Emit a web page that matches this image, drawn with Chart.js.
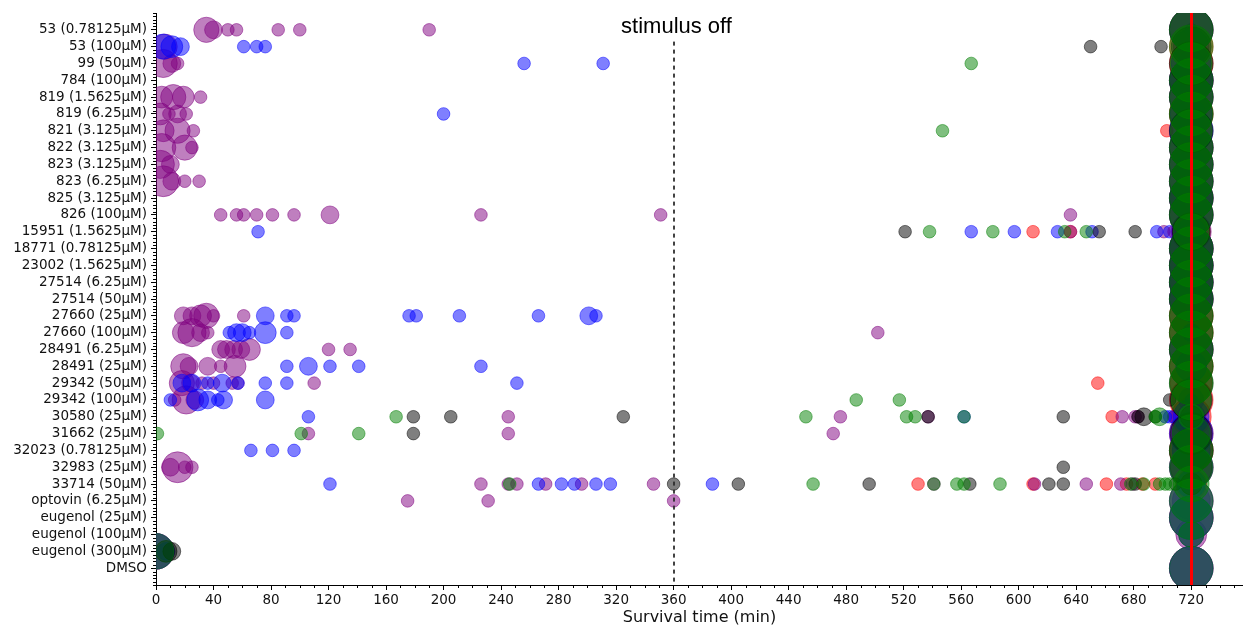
<!DOCTYPE html>
<html>
<head>
<meta charset="utf-8">
<script src="https://cdn.jsdelivr.net/npm/chart.js@4.4.1/dist/chart.umd.min.js"></script>
<style>
  body { margin: 0; background: #fff; }
</style>
</head>
<body>
<canvas id="chart" width="1243" height="626"></canvas>
<script>
// rows, top to bottom
const rowLabels = [
  "53 (0.78125µM)", "53 (100µM)", "99 (50µM)", "784 (100µM)", "819 (1.5625µM)",
  "819 (6.25µM)", "821 (3.125µM)", "822 (3.125µM)", "823 (3.125µM)", "823 (6.25µM)",
  "825 (3.125µM)", "826 (100µM)", "15951 (1.5625µM)", "18771 (0.78125µM)", "23002 (1.5625µM)",
  "27514 (6.25µM)", "27514 (50µM)", "27660 (25µM)", "27660 (100µM)", "28491 (6.25µM)",
  "28491 (25µM)", "29342 (50µM)", "29342 (100µM)", "30580 (25µM)", "31662 (25µM)",
  "32023 (0.78125µM)", "32983 (25µM)", "33714 (50µM)", "optovin (6.25µM)", "eugenol (25µM)",
  "eugenol (100µM)", "eugenol (300µM)", "DMSO"
];

const xMax = 756;
const stimulusOff = 360;
const endTime = 720;

// deaths: [time (min), row, number of fish]
const purplePts = [
  [35, 0, 4], [40, 0, 2], [50, 0, 1], [56, 0, 1], [85, 0, 1], [100, 0, 1], [190, 0, 1],
  [6, 1, 4],
  [5, 2, 5], [11, 2, 2], [15, 2, 1],
  [4, 4, 3], [12, 4, 4], [19, 4, 3], [31, 4, 1],
  [3, 5, 3], [9, 5, 1], [15, 5, 2], [21, 5, 1],
  [5, 6, 3], [15, 6, 4], [26, 6, 1],
  [4, 7, 5], [20, 7, 4], [25, 7, 1],
  [3, 8, 5], [10, 8, 2],
  [5, 9, 6], [11, 9, 2], [20, 9, 1], [30, 9, 1],
  [45, 11, 1], [56, 11, 1], [61, 11, 1], [70, 11, 1], [81, 11, 1], [96, 11, 1], [121, 11, 2],
  [226, 11, 1], [351, 11, 1], [636, 11, 1],
  [636, 12, 1], [701, 12, 1],
  [19, 17, 2], [25, 17, 2], [31, 17, 3], [35, 17, 4], [40, 17, 1], [61, 17, 1],
  [19, 18, 3], [25, 18, 5], [31, 18, 2], [36, 18, 1], [502, 18, 1],
  [45, 19, 2], [49, 19, 2], [54, 19, 2], [59, 19, 2], [65, 19, 3], [120, 19, 1], [135, 19, 1],
  [19, 20, 4], [23, 20, 2], [36, 20, 2], [45, 20, 1], [55, 20, 3],
  [18, 21, 4], [24, 21, 2], [32, 21, 1], [40, 21, 1], [53, 21, 1], [57, 21, 1], [110, 21, 1],
  [13, 22, 1], [21, 22, 5], [27, 22, 2],
  [245, 23, 1], [476, 23, 1], [537, 23, 1], [672, 23, 1], [681, 23, 1], [683, 23, 1], [708, 23, 1],
  [106, 24, 1], [245, 24, 1], [471, 24, 1],
  [15, 26, 6], [10, 26, 2], [20, 26, 1], [25, 26, 1],
  [226, 27, 1], [245, 27, 1], [251, 27, 1], [271, 27, 1], [296, 27, 1], [346, 27, 1],
  [541, 27, 1], [611, 27, 1], [647, 27, 1], [671, 27, 1], [679, 27, 1],
  [175, 28, 1], [231, 28, 1], [360, 28, 1],
  [0, 31, 8]
];

const bluePts = [
  [5, 1, 4], [11, 1, 3], [17, 1, 2], [61, 1, 1], [70, 1, 1], [76, 1, 1],
  [256, 2, 1], [311, 2, 1],
  [200, 5, 1],
  [71, 12, 1], [567, 12, 1], [597, 12, 1], [627, 12, 1], [651, 12, 1], [696, 12, 1], [705, 12, 1],
  [76, 17, 2], [91, 17, 1], [96, 17, 1], [176, 17, 1], [181, 17, 1], [211, 17, 1], [266, 17, 1],
  [301, 17, 2], [306, 17, 1],
  [51, 18, 1], [56, 18, 2], [60, 18, 2], [65, 18, 1], [76, 18, 3], [91, 18, 1],
  [91, 20, 1], [106, 20, 2], [121, 20, 1], [141, 20, 1], [226, 20, 1],
  [18, 21, 2], [25, 21, 2], [36, 21, 1], [46, 21, 2], [57, 21, 1], [76, 21, 1], [91, 21, 1], [251, 21, 1],
  [10, 22, 1], [29, 22, 3], [36, 22, 2], [43, 22, 1], [47, 22, 2], [76, 22, 2],
  [106, 23, 1], [562, 23, 1], [702, 23, 1], [705, 23, 1],
  [66, 25, 1], [81, 25, 1], [96, 25, 1],
  [121, 27, 1], [266, 27, 1], [282, 27, 1], [291, 27, 1], [306, 27, 1], [316, 27, 1], [387, 27, 1],
  [0, 31, 8], [7, 31, 2]
];

const greenPts = [
  [567, 2, 1],
  [547, 6, 1],
  [538, 12, 1], [582, 12, 1], [632, 12, 1], [647, 12, 1],
  [487, 22, 1], [517, 22, 1],
  [167, 23, 1], [452, 23, 1], [522, 23, 1], [528, 23, 1], [562, 23, 1], [695, 23, 1], [698, 23, 2],
  [1, 24, 1], [101, 24, 1], [141, 24, 1],
  [246, 27, 1], [457, 27, 1], [541, 27, 1], [557, 27, 1], [562, 27, 1], [587, 27, 1],
  [678, 27, 1], [687, 27, 1], [698, 27, 1], [702, 27, 1], [705, 27, 1],
  [0, 31, 8]
];

const blackPts = [
  [650, 1, 1], [699, 1, 1],
  [521, 12, 1], [656, 12, 1], [681, 12, 1],
  [705, 22, 1],
  [179, 23, 1], [205, 23, 1], [325, 23, 1], [537, 23, 1], [631, 23, 1], [683, 23, 1], [687, 23, 2], [695, 23, 1],
  [179, 24, 1],
  [631, 26, 1],
  [360, 27, 1], [405, 27, 1], [496, 27, 1], [566, 27, 1], [621, 27, 1], [631, 27, 1], [681, 27, 1], [709, 27, 1],
  [7, 31, 3], [11, 31, 2]
];

const redPts = [
  [703, 6, 1],
  [610, 12, 1], [636, 12, 1], [708, 12, 1],
  [655, 21, 1],
  [665, 23, 1], [708, 23, 1],
  [530, 27, 1], [610, 27, 1], [661, 27, 1], [675, 27, 1], [686, 27, 1], [695, 27, 1],
  [0, 31, 8]
];

// still alive at 720 min, one count per row
const purple720 = [1, 8, 4, 12, 1, 5, 4, 2, 5, 2, 12, 1, 10, 12, 12, 12, 12, 0, 0, 0, 0, 1, 4, 5, 9, 12, 2, 1, 9, 12, 6, 0, 12];
const blue720   = [12, 0, 10, 12, 12, 11, 12, 12, 12, 12, 12, 12, 5, 12, 12, 12, 12, 1, 2, 12, 6, 1, 1, 8, 12, 9, 12, 5, 12, 12, 4, 0, 12];
const green720  = [12, 12, 11, 12, 12, 12, 11, 12, 12, 12, 12, 12, 8, 12, 12, 12, 12, 12, 12, 12, 12, 12, 10, 4, 9, 12, 12, 8, 12, 12, 4, 0, 12];
const black720  = [12, 10, 12, 12, 12, 12, 12, 12, 12, 12, 12, 12, 9, 12, 12, 12, 12, 12, 12, 12, 12, 12, 11, 3, 11, 12, 11, 3, 0, 0, 0, 0, 0];
const red720    = [12, 12, 12, 12, 12, 12, 11, 12, 12, 12, 12, 12, 9, 12, 12, 12, 12, 12, 12, 12, 12, 11, 12, 10, 12, 12, 12, 6, 12, 12, 4, 0, 12];

const sizeOf = (n) => 6.3 * Math.sqrt(n);

const makeData = (pts, alive) => {
  let data = pts.map((p) => ({ x: p[0], y: p[1], r: sizeOf(p[2]) }));
  alive.forEach((n, i) => {
    if (n > 0) data.push({ x: endTime, y: i, r: sizeOf(n) });
  });
  return data;
};

// lower order is drawn on top
const series = [
  { name: "green", rgb: "0,128,0", pts: greenPts, alive: green720, order: 0 },
  { name: "black", rgb: "0,0,0", pts: blackPts, alive: black720, order: 1 },
  { name: "blue", rgb: "0,0,255", pts: bluePts, alive: blue720, order: 2 },
  { name: "purple", rgb: "128,0,128", pts: purplePts, alive: purple720, order: 3 },
  { name: "red", rgb: "255,0,0", pts: redPts, alive: red720, order: 4 },
];

const datasets = series.map((s) => ({
  label: s.name,
  data: makeData(s.pts, s.alive),
  backgroundColor: `rgba(${s.rgb},0.5)`,
  borderColor: `rgba(${s.rgb},0.5)`,
  borderWidth: 1,
  order: s.order,
  clip: 0,
}));

const tickFont = { family: "DejaVu Sans", size: 13.5 };

// dashed / red lines, label and minor ticks
const extras = {
  id: "extras",
  afterDatasetsDraw(chart) {
    const { ctx, chartArea: a, scales } = chart;
    const x = scales.x;
    const y = scales.y;
    ctx.save();

    const xs = Math.round(x.getPixelForValue(stimulusOff));
    ctx.strokeStyle = "rgba(45,45,45,0.9)";
    ctx.lineWidth = 2;
    ctx.setLineDash([4, 4]);
    ctx.beginPath();
    ctx.moveTo(xs, a.top + a.height * 0.05);
    ctx.lineTo(xs, a.bottom);
    ctx.stroke();

    ctx.setLineDash([]);
    ctx.strokeStyle = "#ff0000";
    ctx.lineWidth = 3;
    const xe = Math.round(x.getPixelForValue(endTime)) + 0.5;
    ctx.beginPath();
    ctx.moveTo(xe, a.top);
    ctx.lineTo(xe, a.bottom);
    ctx.stroke();

    ctx.fillStyle = "#000";
    ctx.font = '22px "Liberation Sans"';
    ctx.textAlign = "center";
    ctx.textBaseline = "alphabetic";
    ctx.fillText("stimulus off", x.getPixelForValue(362), a.top + 20);

    // minor ticks
    ctx.strokeStyle = "#000";
    ctx.lineWidth = 1;
    ctx.beginPath();
    for (let v = 10; v <= xMax; v += 10) {
      if (v % 40 === 0) continue;
      const px = Math.round(x.getPixelForValue(v)) + 0.5;
      ctx.moveTo(px, a.bottom);
      ctx.lineTo(px, a.bottom + 3);
    }
    for (let k = -5; k <= 165; k++) {
      const v = k / 5;
      if (k % 5 === 0 && v >= 0 && v <= 32) continue;
      const py = Math.round(y.getPixelForValue(v)) + 0.5;
      ctx.moveTo(a.left - 3, py);
      ctx.lineTo(a.left, py);
    }
    ctx.stroke();
    ctx.restore();
  },
};

new Chart(document.getElementById("chart"), {
  type: "bubble",
  data: { datasets: datasets },
  options: {
    responsive: false,
    devicePixelRatio: 1,
    animation: false,
    events: [],
    layout: {
      autoPadding: false,
      padding: { top: 13, right: 0, bottom: 0, left: 0 },
    },
    plugins: {
      legend: { display: false },
      tooltip: { enabled: false },
    },
    scales: {
      x: {
        type: "linear",
        min: 0,
        max: xMax,
        afterFit: (s) => {
          s.height = 41;
          s.paddingLeft = 0;
          s.paddingRight = 0;
        },
        ticks: {
          stepSize: 40,
          includeBounds: false,
          autoSkip: false,
          maxRotation: 0,
          padding: 2,
          color: "#111",
          font: tickFont,
        },
        grid: {
          drawOnChartArea: false,
          tickLength: 5,
          tickColor: "#000",
          tickWidth: 1,
        },
        border: { display: true, color: "#000", width: 1 },
        title: {
          display: true,
          text: "Survival time (min)",
          color: "#111",
          font: { family: "DejaVu Sans", size: 16 },
          padding: { top: 0, bottom: -1 },
        },
      },
      y: {
        type: "linear",
        reverse: true,
        min: -1,
        max: 33,
        afterFit: (s) => {
          s.width = 156;
          s.paddingTop = 0;
          s.paddingBottom = 0;
        },
        ticks: {
          stepSize: 1,
          autoSkip: false,
          padding: 4,
          color: "#111",
          font: tickFont,
          callback: (v) => rowLabels[v] || "",
        },
        grid: {
          drawOnChartArea: false,
          tickLength: 5,
          tickWidth: 1,
          tickColor: (c) => (c.tick && c.tick.value >= 0 && c.tick.value <= 32 ? "#000" : "rgba(0,0,0,0)"),
        },
        border: { display: true, color: "#000", width: 1 },
      },
    },
  },
  plugins: [extras],
});
</script>
</body>
</html>
